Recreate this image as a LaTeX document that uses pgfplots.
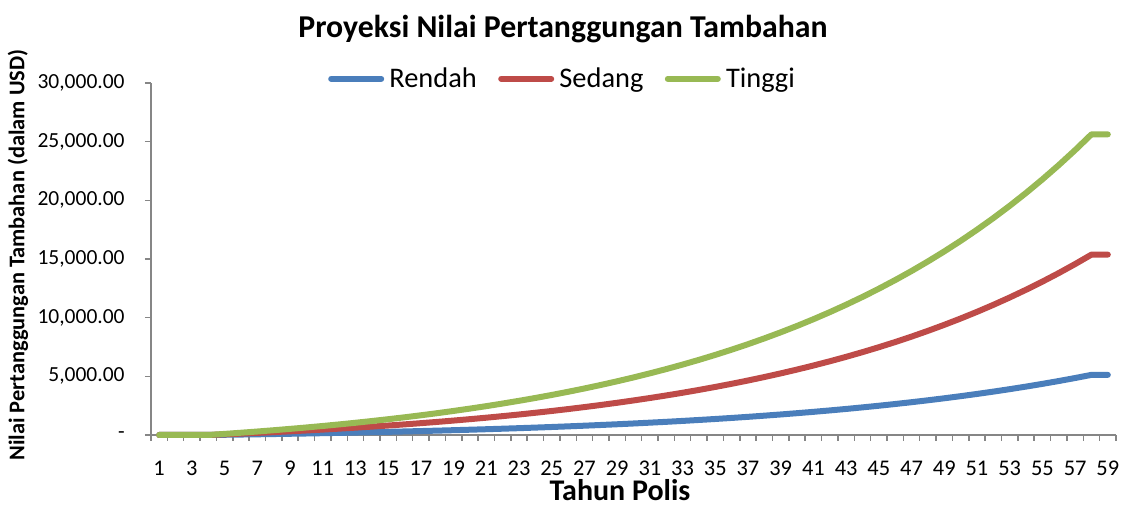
\documentclass[border=0pt]{standalone}
\usepackage{pgfplots}
\pgfplotsset{compat=1.18}
\usepackage{pgfplotstable}
\usepackage{fontspec}
\setmainfont{Carlito}
\definecolor{cR}{HTML}{4A7EBB}
\definecolor{cS}{HTML}{BE4B48}
\definecolor{cT}{HTML}{98B954}
\definecolor{axg}{HTML}{868686}

\pgfplotstableread{
c r s t
1 0 0 0
2 0 0 0
3 0 0 0
4 0 0 0
5 19 56 94
6 39 116 193
7 59 178 297
8 81 244 406
9 104 313 521
10 128 385 641
11 154 461 768
12 180 541 902
13 208 625 1042
14 238 714 1190
15 269 807 1345
16 302 905 1508
17 336 1008 1680
18 372 1116 1860
19 410 1230 2050
20 450 1350 2250
21 492 1475 2459
22 536 1608 2680
23 582 1747 2912
24 631 1894 3156
25 682 2047 3412
26 736 2209 3682
27 793 2379 3965
28 853 2558 4263
29 915 2746 4577
30 981 2944 4906
31 1051 3152 5253
32 1123 3370 5617
33 1200 3600 6000
34 1281 3842 6403
35 1365 4096 6827
36 1454 4363 7272
37 1548 4644 7740
38 1647 4940 8233
39 1750 5251 8751
40 1859 5577 9295
41 1974 5921 9868
42 2094 6282 10470
43 2220 6661 11102
44 2354 7061 11768
45 2494 7481 12468
46 2641 7922 13204
47 2795 8386 13977
48 2958 8875 14791
49 3129 9388 15646
50 3309 9927 16545
51 3498 10495 17491
52 3697 11092 18486
53 3906 11719 19531
54 4126 12379 20631
55 4357 13072 21787
56 4600 13801 23002
57 4856 14568 24280
58 5125 15374 25624
59 5125 15374 25624
}\data

\begin{document}
\begin{tikzpicture}
\path[use as bounding box] (-75.5pt,-36.5pt) rectangle (487.5pt,217.5pt);
\begin{axis}[
  at={(0,0)}, anchor=south west,
  width=482.5pt, height=176pt, scale only axis, clip=false,
  xmin=0.5, xmax=59.5, ymin=0, ymax=30000,
  axis lines*=left,
  axis line style={axg, line width=0.75pt},
  tick style={axg, line width=0.75pt},
  tick align=outside, major tick length=3pt,
  xtick={0.5,1.5,...,59.5}, xticklabels={},
  extra x ticks={1,3,...,59},
  extra x tick labels={1,3,5,7,9,11,13,15,17,19,21,23,25,27,29,31,33,35,37,39,41,43,45,47,49,51,53,55,57,59},
  extra x tick style={major tick length=0pt, tick label style={yshift=-12.8pt, font=\fontsize{11.2}{12}\selectfont}},
  ytick={0,5000,...,30000},
  yticklabels={{-\hspace{4pt}},{5,000.00},{10,000.00},{15,000.00},{20,000.00},{25,000.00},{30,000.00}},
  tick label style={font=\fontsize{10.75}{12}\selectfont, inner sep=0pt},
  yticklabel style={xshift=-10pt},
  scaled y ticks=false,
  title={Proyeksi Nilai Pertanggungan Tambahan},
  title style={at={(axis description cs:0.4269,1.096)}, anchor=base, yshift=0pt, font=\bfseries\fontsize{15.9}{18}\selectfont},
  xlabel={Tahun Polis},
  xlabel style={at={(axis description cs:0.486,-0.187)}, anchor=base, font=\bfseries\fontsize{15}{18}\selectfont},
  ylabel={Nilai Pertanggungan Tambahan (dalam USD)},
  ylabel style={at={(axis description cs:-0.1378,0.511)}, anchor=center, font=\bfseries\fontsize{11.2}{13}\selectfont},
  legend columns=3,
  legend style={at={(axis description cs:0.4254,1.012)}, anchor=center, draw=none, fill=none,
    font=\fontsize{14.2}{16}\selectfont, inner sep=0pt, nodes={inner sep=0pt},
    /tikz/every odd column/.append style={column sep=2.6pt},
    /tikz/every even column/.append style={column sep=10.7pt}},
  legend image code/.code={\draw[#1] (1.5pt,0pt) -- (26.5pt,0pt);},
]
\addplot[cR, line width=3pt, line cap=round, line join=round] table[x=c,y=r]{\data};
\addlegendentry{Rendah}
\addplot[cS, line width=3pt, line cap=round, line join=round] table[x=c,y=s]{\data};
\addlegendentry{Sedang}
\addplot[cT, line width=3pt, line cap=round, line join=round] table[x=c,y=t]{\data};
\addlegendentry{Tinggi}
\end{axis}
\end{tikzpicture}
\end{document}
